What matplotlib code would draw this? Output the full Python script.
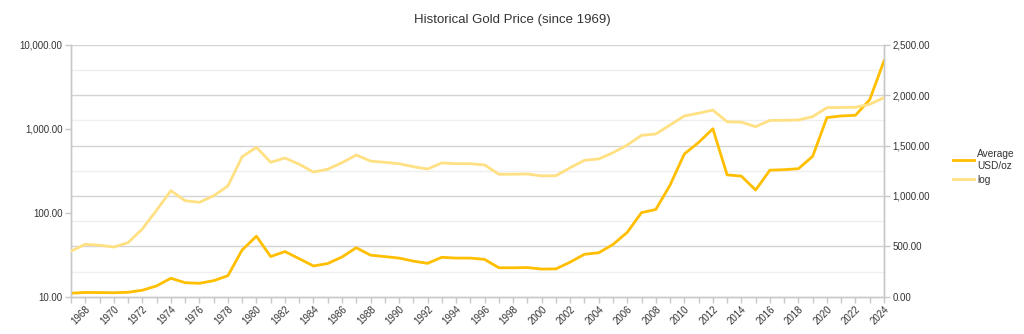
import matplotlib.pyplot as plt
import numpy as np
from matplotlib.ticker import FuncFormatter, FixedLocator, NullLocator

plt.rcParams['font.family'] = ['Liberation Sans', 'DejaVu Sans']

# annual average gold price, USD/oz
years = list(range(1967, 2025))
price = [35, 42, 41, 39, 44, 64, 107, 183, 139, 133,
         159, 208, 464, 600, 398, 448, 377, 305, 329, 394,
         486, 412, 398, 383, 353, 331, 391, 383, 383, 370,
         287, 287, 289, 274, 276, 343, 421, 436, 518, 639,
         834, 865, 1107, 1416, 1530, 1666, 1209, 1196, 1058, 1255,
         1260, 1270, 1393, 1777, 1793, 1800, 1955, 2340]

title = 'Historical Gold Price (since 1969)'
label_linear = 'Average\nUSD/oz'
label_log = 'log'

dark = '#ffbf00'
light = '#ffe083'
grid_major = '#d4d4d4'
grid_minor = '#efefef'
spine_col = '#c8c8c8'
text_col = '#333333'

fig = plt.figure(figsize=(10.24, 3.34), dpi=100)
ax = fig.add_axes([71 / 1024, 1 - 296.7 / 334, 813 / 1024, 252 / 334])
ax2 = ax.twinx()

# left: log scale
ax.set_yscale('log')
ax.set_ylim(10, 10000)
ax.yaxis.set_major_locator(FixedLocator([10, 100, 1000, 10000]))
ax.yaxis.set_minor_locator(NullLocator())
ax.yaxis.set_major_formatter(FuncFormatter(lambda v, p: f'{v:,.2f}'))

# right: linear scale
ax2.set_ylim(0, 2500)
ax2.yaxis.set_major_locator(FixedLocator(np.arange(0, 2501, 500)))
ax2.yaxis.set_major_formatter(FuncFormatter(lambda v, p: f'{v:,.2f}'))

# grid lines follow the right axis
for v in np.arange(250, 2501, 250):
    ax2.axhline(v, color=grid_major if v % 500 == 0 else grid_minor,
                lw=1.0, zorder=0)

ax.set_xlim(years[0], years[-1])
ax.set_xticks(years)
ax.set_xticklabels([str(y) if y % 2 == 0 else '' for y in years],
                   rotation=45, ha='right', va='top', rotation_mode='anchor')

l2, = ax2.plot(years, price, color=dark, lw=2.0, zorder=3, label=label_linear)
l1, = ax.plot(years, price, color=light, lw=2.0, zorder=3, label=label_log)
ax.set_zorder(ax2.get_zorder() + 1)
ax.patch.set_visible(False)

for a in (ax, ax2):
    for s in a.spines.values():
        s.set_color(spine_col)
        s.set_linewidth(1.0)
    a.spines['top'].set_visible(False)
    a.tick_params(colors=spine_col, labelcolor=text_col, labelsize=7,
                  length=4, width=1, pad=2)
ax.tick_params(axis='x', pad=1)

fig.text(0.5, 1 - 20 / 334, title, ha='center', va='center',
         fontsize=9.5, color=text_col)

fig.legend(handles=[l2, l1], labels=[label_linear, label_log],
           loc='center left', bbox_to_anchor=(953 / 1024, 1 - 167 / 334),
           frameon=False, fontsize=7.3, handlelength=2.1, handletextpad=0.3,
           labelspacing=0.4, borderpad=0, borderaxespad=0,
           labelcolor=text_col)

fig.savefig('out.png', dpi=100)
